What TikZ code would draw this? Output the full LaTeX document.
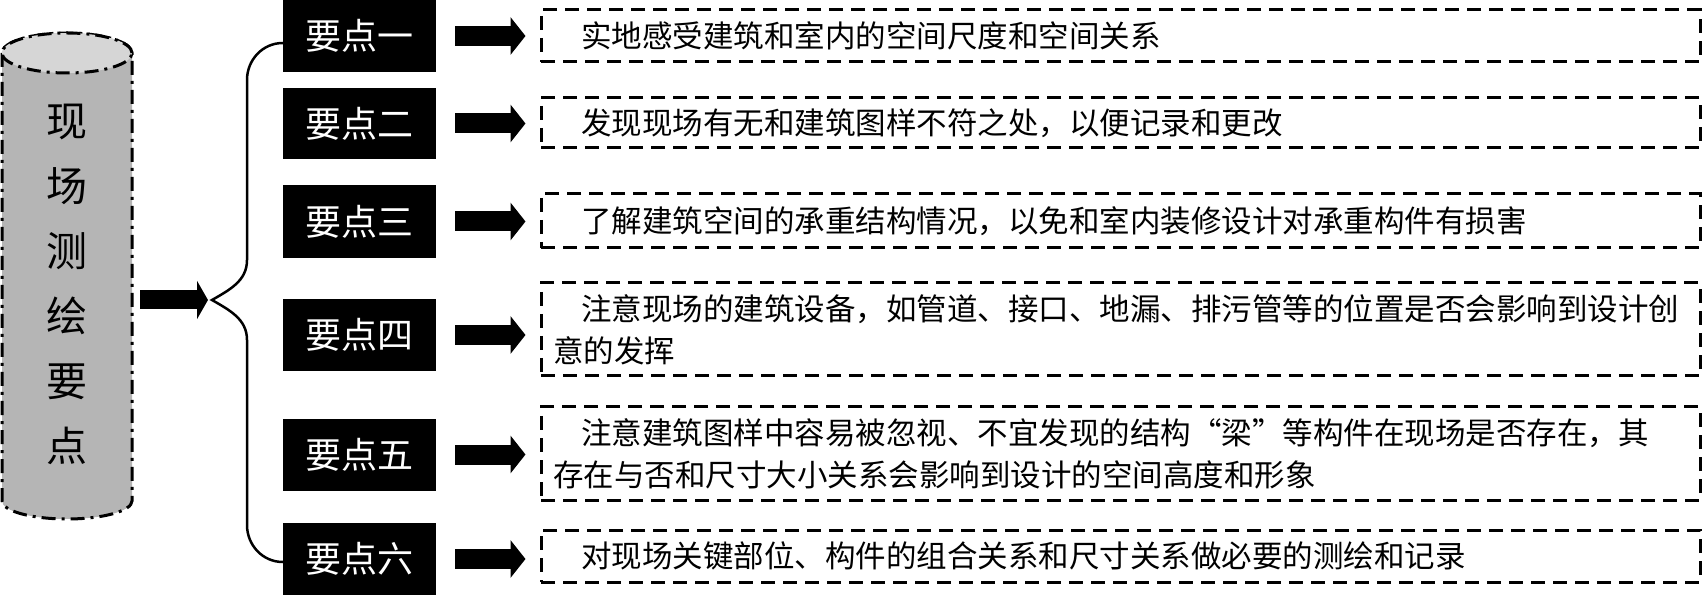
\documentclass[tikz,border=0pt]{standalone}
\usepackage{fontspec}
\newfontfamily\cjk{Noto Sans CJK SC}
\usetikzlibrary{arrows.meta,positioning}

\begin{document}
\begin{tikzpicture}[x=1pt, y=1pt,
  keybox/.style={fill=black, text=white, minimum width=153pt, minimum height=72pt, inner sep=0pt, font=\cjk\fontsize{36}{40}\selectfont},
  notebox/.style={draw, line width=3pt, dash pattern=on 14pt off 8pt, minimum width=1159pt, text width=1135pt, inner xsep=12pt, inner ysep=2pt, align=left, font=\cjk\fontsize{30.5}{42}\selectfont},
  fatarrow/.style={line width=20pt, -{Triangle[length=15pt, width=37pt]}},
  dashdot/.style={line width=3pt, dash pattern=on 14pt off 6pt on 3pt off 6pt}]
\useasboundingbox (0,0) rectangle (1703,595);

\def\xp{359.5}
\def\xd{1120.5}

\def\cyleft{2}
\def\cyright{132}
\def\cytop{542}
\def\cybot{94}

\filldraw[dashdot, fill=black!29] (\cyleft,\cytop) -- (\cyleft,\cybot) arc[start angle=180, end angle=360, x radius=65pt, y radius=18pt] -- (\cyright,\cytop) arc[start angle=0, end angle=180, x radius=65pt, y radius=20pt] -- cycle;
\filldraw[dashdot, fill=black!16] (67,\cytop) ellipse [x radius=65pt, y radius=20pt];
\node[minimum width=130pt, align=center, font=\cjk\fontsize{41}{65}\selectfont] (cyl) at (67, 310.5) {现\\场\\测\\绘\\要\\点};

\node[keybox] (p1) at (\xp, 559) {要点一};
\node[keybox, minimum height=71pt] (p2) at (\xp, 471.5) {要点二};
\node[keybox, minimum height=73pt] (p3) at (\xp, 373.5) {要点三};
\node[keybox] (p4) at (\xp, 260) {要点四};
\node[keybox] (p5) at (\xp, 140.5) {要点五};
\node[keybox] (p6) at (\xp, 36) {要点六};

\node[notebox, minimum height=52pt] (d1) at (\xd, 559) {\hspace*{28pt}实地感受建筑和室内的空间尺度和空间关系};
\node[notebox, minimum height=50pt] (d2) at (\xd, 472) {\hspace*{28pt}发现现场有无和建筑图样不符之处，以便记录和更改};
\node[notebox, minimum height=54pt] (d3) at (\xd, 374) {\hspace*{28pt}了解建筑空间的承重结构情况，以免和室内装修设计对承重构件有损害};
\node[notebox, minimum height=93pt] (d4) at (\xd, 265.5) {\hspace*{28pt}注意现场的建筑设备，如管道、接口、地漏、排污管等的位置是否会影响到设计创\\意的发挥};
\node[notebox, minimum height=93pt] (d5) at (\xd, 141.5) {\hspace*{28pt}注意建筑图样中容易被忽视、不宜发现的结构“梁”等构件在现场是否存在，其\\存在与否和尺寸大小关系会影响到设计的空间高度和形象};
\node[notebox, minimum height=52pt] (d6) at (\xd, 39) {\hspace*{28pt}对现场关键部位、构件的组合关系和尺寸关系做必要的测绘和记录};

\coordinate (tip) at (212,295);
\draw[line width=19pt, -{Triangle[length=11pt, width=38pt]}, shorten <=8pt, shorten >=4pt] (cyl.east |- tip) -- (tip);
\draw[line width=2.5pt] ([yshift=-7pt]p1.west) to[out=180, in=90] (247,515) -- (247,335) to[out=-90, in=30] (tip) to[out=-30, in=90] (247,255) -- (247,70) to[out=-90, in=180] ([yshift=-3pt]p6.west);

\draw[fatarrow, shorten <=19pt, shorten >=14pt] (p1.east) -- (p1.east -| d1.west);
\draw[fatarrow, shorten <=19pt, shorten >=14pt] (p2.east) -- (p2.east -| d2.west);
\draw[fatarrow, shorten <=19pt, shorten >=14pt] (p3.east) -- (p3.east -| d3.west);
\draw[fatarrow, shorten <=19pt, shorten >=14pt] (p4.east) -- (p4.east -| d4.west);
\draw[fatarrow, shorten <=19pt, shorten >=14pt] (p5.east) -- (p5.east -| d5.west);
\draw[fatarrow, shorten <=19pt, shorten >=14pt] (p6.east) -- (p6.east -| d6.west);
\end{tikzpicture}
\end{document}
